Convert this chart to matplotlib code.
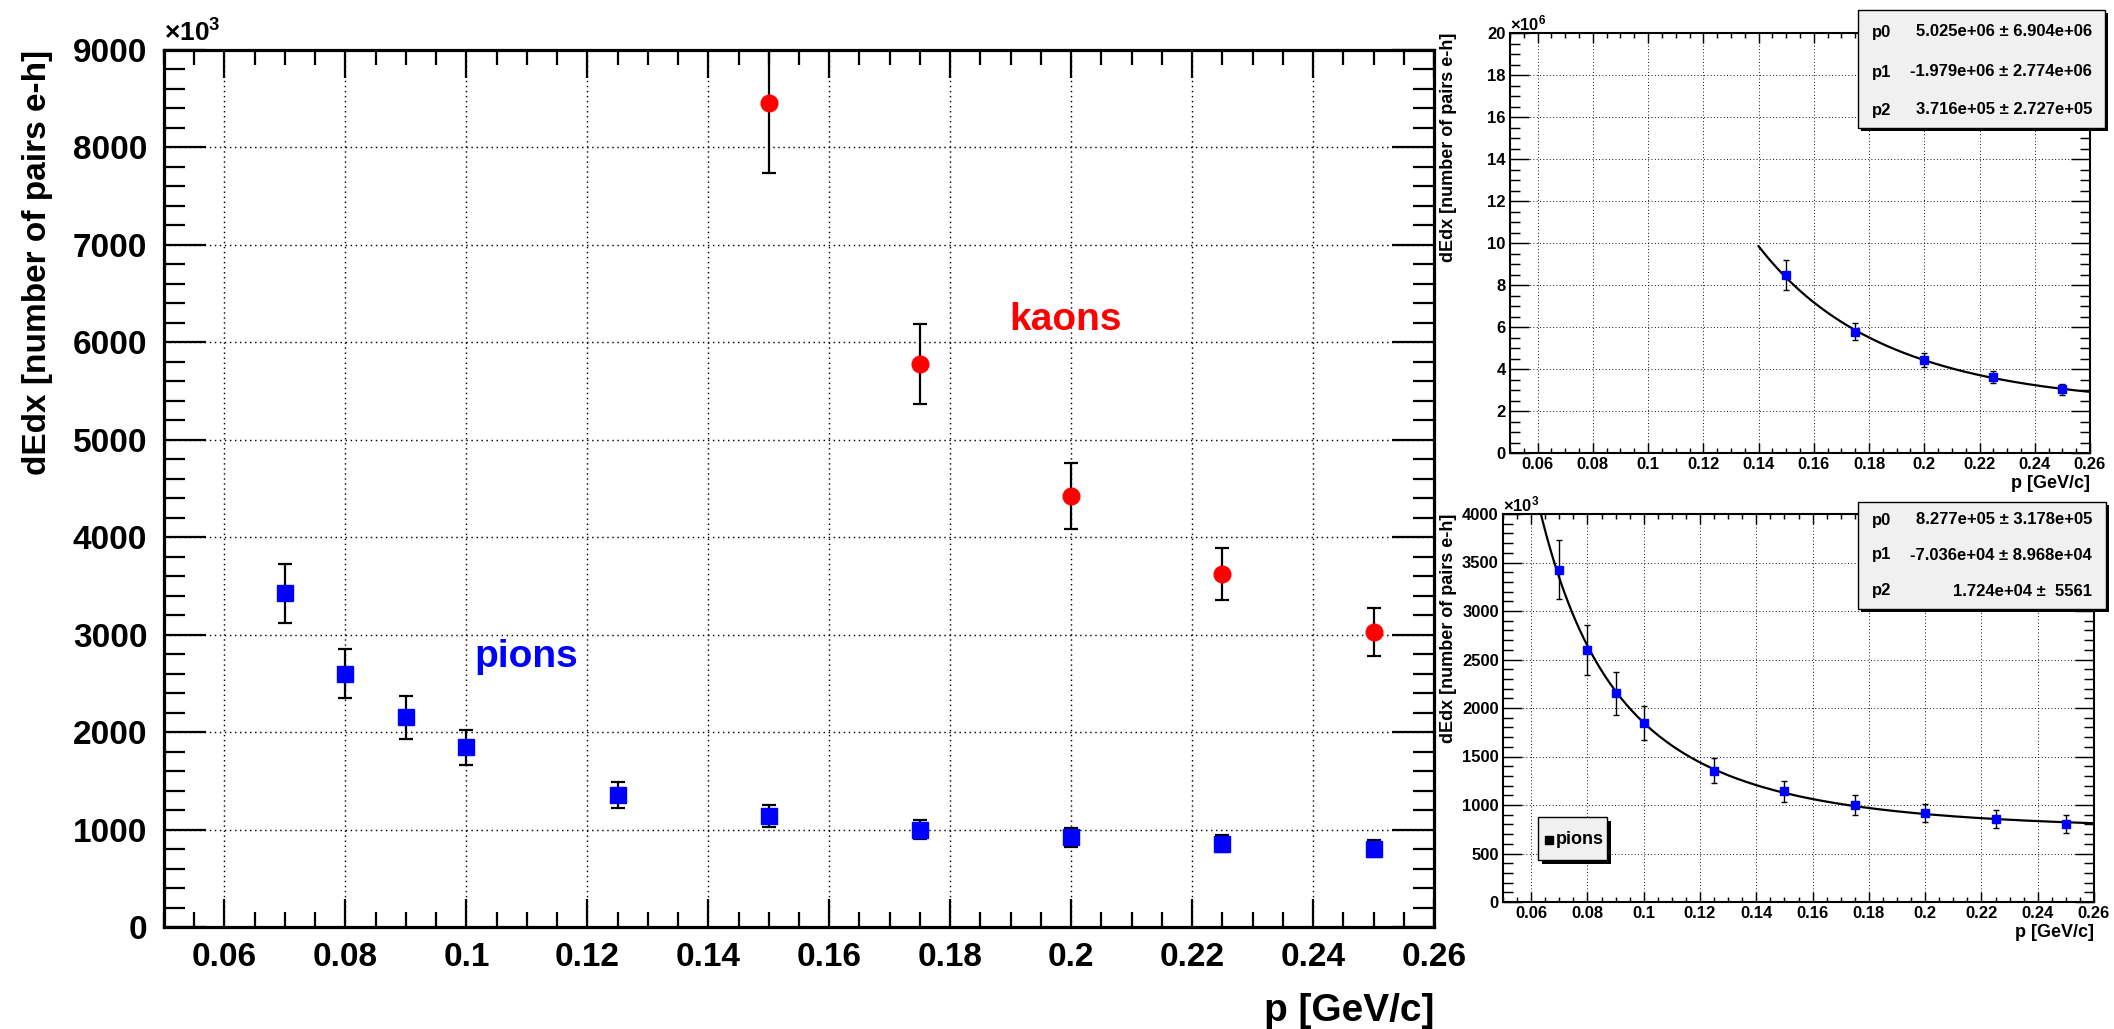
import numpy as np
import matplotlib
matplotlib.use("Agg")
import matplotlib.pyplot as plt
from matplotlib.patches import Rectangle
from matplotlib.ticker import MultipleLocator, FixedLocator, FuncFormatter

plt.rcParams['font.family'] = ['Liberation Sans', 'DejaVu Sans']
plt.rcParams['font.weight'] = 'bold'
plt.rcParams['axes.labelweight'] = 'bold'
plt.rcParams['mathtext.fontset'] = 'custom'
plt.rcParams['mathtext.rm'] = 'Liberation Sans'
plt.rcParams['mathtext.it'] = 'Liberation Sans:italic'
plt.rcParams['mathtext.bf'] = 'Liberation Sans:bold'

# --- datos (dEdx en unidades de 10^3 pares e-h) ---
p_pions = [0.07, 0.08, 0.09, 0.10, 0.125, 0.15, 0.175, 0.20, 0.225, 0.25]
dedx_pions = [3425, 2600, 2150, 1845, 1355, 1140, 1000, 920, 855, 805]
err_pions = [305, 255, 220, 180, 130, 110, 100, 95, 90, 90]

p_kaons = [0.15, 0.175, 0.20, 0.225, 0.25]
dedx_kaons = [8460, 5780, 4420, 3620, 3030]
err_kaons = [720, 410, 340, 265, 245]

# parametros del ajuste p0 + p1/p + p2/p^2
par_kaons = [5.025e6, -1.979e6, 3.716e5]
perr_kaons = [6.904e6, 2.774e6, 2.727e5]
par_pions = [8.277e5, -7.036e4, 1.724e4]
perr_pions = ["3.178e+05", "8.968e+04", " 5561"]

x_ticks = [0.06, 0.08, 0.10, 0.12, 0.14, 0.16, 0.18, 0.20, 0.22, 0.24, 0.26]

W, H = 2114, 1029
fig = plt.figure(figsize=(W / 100, H / 100), dpi=100)


def rect(l, t, r, b):
    # caja en pixeles -> fraccion de figura
    return [l / W, 1 - b / H, (r - l) / W, (b - t) / H]


def fit(x, p):
    return p[0] + p[1] / x + p[2] / x ** 2


def root_style(ax, ymaj, ymin, spine_lw, ylen, xlen, size):
    ax.set_xlim(0.05, 0.26)
    ax.xaxis.set_major_locator(FixedLocator(x_ticks))
    ax.xaxis.set_minor_locator(MultipleLocator(0.005))
    ax.yaxis.set_major_locator(MultipleLocator(ymaj))
    ax.yaxis.set_minor_locator(MultipleLocator(ymin))
    ax.xaxis.set_major_formatter(FuncFormatter(lambda v, _: "%g" % round(v, 3)))
    ax.yaxis.set_major_formatter(FuncFormatter(lambda v, _: "%g" % v))
    ax.tick_params(which='both', direction='in', top=True, right=True,
                   width=spine_lw * 0.7, labelsize=size)
    ax.tick_params(axis='y', which='major', length=ylen)
    ax.tick_params(axis='y', which='minor', length=ylen / 2)
    ax.tick_params(axis='x', which='major', length=xlen)
    ax.tick_params(axis='x', which='minor', length=xlen * 0.55)
    for s in ax.spines.values():
        s.set_linewidth(spine_lw)
    ax.grid(True, which='major', color='black', linestyle=(0, (1, 2.5)),
            linewidth=spine_lw * 0.45)


def pave(l, t, r, b, shadow=3):
    fig.add_artist(Rectangle((l / W + shadow / W, 1 - (b + shadow) / H), (r - l) / W, (b - t) / H,
                             transform=fig.transFigure, facecolor='black', edgecolor='black',
                             lw=0, zorder=9))
    fig.add_artist(Rectangle((l / W, 1 - b / H), (r - l) / W, (b - t) / H,
                             transform=fig.transFigure, facecolor='#f0f0f0', edgecolor='black',
                             lw=1, zorder=10))


# --- grafico principal ---
ax = fig.add_axes(rect(164, 50, 1434, 927))
root_style(ax, 1000, 200, 2.3, 30, 20, 24)
ax.set_ylim(0, 9000)
ax.tick_params(axis='y', pad=12)
ax.tick_params(axis='x', pad=11)
ax.errorbar(p_pions, dedx_pions, yerr=err_pions, fmt='none', ecolor='black',
            elinewidth=1.6, capsize=5, capthick=1.6, zorder=3)
ax.errorbar(p_kaons, dedx_kaons, yerr=err_kaons, fmt='none', ecolor='black',
            elinewidth=1.6, capsize=5, capthick=1.6, zorder=3)
ax.plot(p_pions, dedx_pions, 's', color='#0000ff', ms=12, zorder=4)
ax.plot(p_kaons, dedx_kaons, 'o', color='#ff0000', ms=12, zorder=4)
ax.text(0.1897, 6126, "kaons", color='#ff0000', fontsize=28, ha='left', va='baseline')
ax.text(0.1013, 2668, "pions", color='#0000ff', fontsize=28, ha='left', va='baseline')
ax.set_xlabel("p [GeV/c]", loc='right', fontsize=28, labelpad=14)
ax.set_ylabel("dEdx [number of pairs e-h]", loc='top', fontsize=24, labelpad=14)
ax.text(0.0, 1.004, r"$\times10^{3}$", transform=ax.transAxes, fontsize=19,
        fontweight='normal', ha='left', va='bottom')

# --- panel superior derecho: kaones con ajuste ---
ax1 = fig.add_axes(rect(1510, 33, 2090, 453))
root_style(ax1, 2, 0.5, 1.5, 14, 7, 12)
ax1.set_ylim(0, 20)
ax1.tick_params(axis='both', pad=3)
xs = np.linspace(0.14, 0.26, 200)
ax1.plot(xs, fit(xs, par_kaons) / 1e6, '-', color='black', lw=1.6, zorder=3)
ax1.errorbar(p_kaons, np.array(dedx_kaons) / 1000, yerr=np.array(err_kaons) / 1000, fmt='none',
             ecolor='black', elinewidth=1, capsize=2.5, capthick=1, zorder=4)
ax1.plot(p_kaons, np.array(dedx_kaons) / 1000, 's', color='#0000ff', ms=6, zorder=5)
ax1.set_xlabel("p [GeV/c]", loc='right', fontsize=13, labelpad=2)
ax1.set_ylabel("dEdx [number of pairs e-h]", loc='top', fontsize=13, labelpad=22)
ax1.text(0.0, 1.0, r"$\times10^{6}$", transform=ax1.transAxes, fontsize=12,
         fontweight='normal', ha='left', va='bottom')

pave(1858, 10, 2105, 128)
for i, (pv, pe, yy) in enumerate(zip(par_kaons, perr_kaons, [32, 72, 110])):
    fig.text(1872 / W, 1 - yy / H, "p%d" % i, fontsize=12, ha='left', va='center', zorder=11)
    fig.text(2092 / W, 1 - yy / H, "%.3e \u00b1 %.3e" % (pv, pe), fontsize=12,
             ha='right', va='center', zorder=11)

# --- panel inferior derecho: piones con ajuste ---
ax2 = fig.add_axes(rect(1503, 514, 2094, 902))
root_style(ax2, 500, 100, 1.5, 14, 7, 12)
ax2.set_ylim(0, 4000)
ax2.tick_params(axis='both', pad=3)
xs = np.linspace(0.06, 0.26, 300)
ax2.plot(xs, fit(xs, par_pions) / 1e3, '-', color='black', lw=1.6, zorder=3)
ax2.errorbar(p_pions, dedx_pions, yerr=err_pions, fmt='none', ecolor='black',
             elinewidth=1, capsize=2.5, capthick=1, zorder=4)
ax2.plot(p_pions, dedx_pions, 's', color='#0000ff', ms=6, zorder=5)
ax2.set_xlabel("p [GeV/c]", loc='right', fontsize=13, labelpad=2)
ax2.set_ylabel("dEdx [number of pairs e-h]", loc='top', fontsize=13, labelpad=4)
ax2.text(0.0, 1.0, r"$\times10^{3}$", transform=ax2.transAxes, fontsize=12,
         fontweight='normal', ha='left', va='bottom')

pave(1858, 502, 2106, 609)
for i, (pv, pe, yy) in enumerate(zip(par_pions, perr_pions, [520, 555, 591])):
    fig.text(1872 / W, 1 - yy / H, "p%d" % i, fontsize=12, ha='left', va='center', zorder=11)
    fig.text(2092 / W, 1 - yy / H, "%.3e \u00b1 %s" % (pv, pe), fontsize=12,
             ha='right', va='center', zorder=11)

# leyenda "pions"
pave(1538, 817, 1607, 860, shadow=4)
fig.add_artist(plt.Line2D([1549 / W], [1 - 840 / H], marker='s', color='black', ms=6,
                          transform=fig.transFigure, zorder=11))
fig.text(1556 / W, 1 - 840 / H, "pions", fontsize=13, ha='left', va='center', zorder=11)

fig.savefig("out.png", dpi=100)
